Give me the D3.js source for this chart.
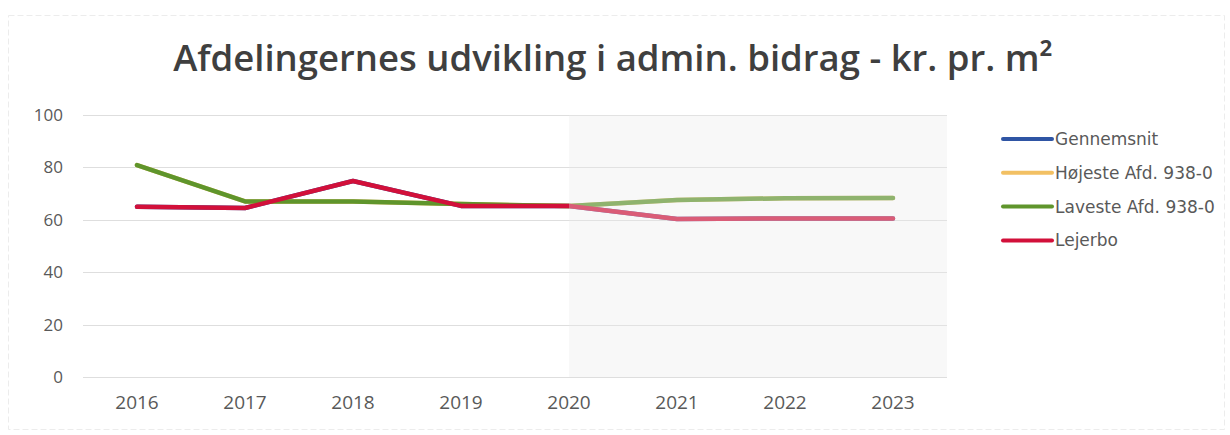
<!DOCTYPE html>
<html><head><meta charset="utf-8">
<script src="https://cdn.jsdelivr.net/npm/d3@7"></script>
<style>body{margin:0;background:#fff}svg{display:block}</style>
</head><body>
<script>
const years = ["2016","2017","2018","2019","2020","2021","2022","2023"];
const seriesNames = ["Gennemsnit","Højeste Afd. 938-0","Laveste Afd. 938-0","Lejerbo"];
const gennemsnit = [65, 64.5, 74.8, 65.3, 65.3, 60.3, 60.5, 60.5];
const hojeste = [80.9, 67, 67, 66, 65.3, 67.6, 68.2, 68.3];
const laveste = [80.9, 67, 67, 66, 65.3, 67.6, 68.2, 68.3];
const lejerbo = [65, 64.5, 74.8, 65.3, 65.3, 60.3, 60.5, 60.5];
const yTicks = [0, 20, 40, 60, 80, 100];
const colors = ["#2f55a4","#f2c063","#5f952c","#d2103a"];
const shadedFrom = "2020";

const W = 1230, H = 435;
const svg = d3.select("body").append("svg").attr("width", W).attr("height", H);
svg.append("rect").attr("x",8.5).attr("y",15.5).attr("width",1216).attr("height",414)
  .attr("fill","none").attr("stroke","#ececec").attr("stroke-dasharray","6,3");

const title = svg.append("text").attr("x", 613).attr("y", 71).attr("text-anchor","middle")
  .attr("font-family","'Open Sans', sans-serif").attr("font-weight", 600).attr("font-size", 36)
  .attr("fill","#3f3f3f").text("Afdelingernes udvikling i admin. bidrag - kr. pr. m²");
const tl = title.node().getComputedTextLength();
title.attr("font-size", 36 * 880 / tl);

const x = d3.scaleBand().domain(years).range([83, 947]);
const y = d3.scaleLinear().domain([0, 100]).range([377, 115]);

// gridlines
svg.append("g").selectAll("line").data(yTicks).join("line")
  .attr("x1", 83).attr("x2", 947)
  .attr("y1", d => Math.round(y(d)) + 0.5).attr("y2", d => Math.round(y(d)) + 0.5)
  .attr("stroke", "#dedede").attr("stroke-width", 1);

// y axis labels
const yAxis = d3.axisLeft(y).tickValues(yTicks).tickSize(0).tickPadding(0);
const gy = svg.append("g").attr("transform","translate(63,0)").call(yAxis);
gy.select(".domain").remove();
gy.selectAll("text").attr("font-family","'Open Sans', sans-serif").attr("font-size",17).attr("fill","#595959");

// x axis labels
const xAxis = d3.axisBottom(x).tickSize(0).tickPadding(0);
const gx = svg.append("g").attr("transform","translate(0,395)").call(xAxis);
gx.select(".domain").remove();
gx.selectAll("text").attr("font-family","'Open Sans', sans-serif").attr("font-size",19).attr("fill","#595959");

const cx = d => x(d) + x.bandwidth()/2;
const line = d3.line().x((d,i) => cx(years[i])).y(d => y(d));
const data = [gennemsnit, hojeste, laveste, lejerbo];
svg.append("g").selectAll("path").data(data).join("path")
  .attr("d", d => line(d)).attr("fill","none")
  .attr("stroke", (d,i) => colors[i]).attr("stroke-width", 4.5)
  .attr("stroke-linejoin","round").attr("stroke-linecap","round");

// faded overlay region
const sx = cx(shadedFrom);
svg.append("rect").attr("x", sx).attr("y", 115).attr("width", 947 - sx).attr("height", 262)
  .attr("fill","#ebebeb").attr("fill-opacity", 0.35);

// legend
const lg = svg.append("g");
seriesNames.forEach((n, i) => {
  const ly = 139 + i * 33.8;
  lg.append("line").attr("x1", 1003).attr("x2", 1052).attr("y1", ly).attr("y2", ly)
    .attr("stroke", colors[i]).attr("stroke-width", 4).attr("stroke-linecap","round");
  lg.append("text").attr("x", 1055).attr("y", ly).attr("dy","0.35em")
    .attr("font-family","'DejaVu Sans', sans-serif").attr("font-size",17).attr("fill","#595959").text(n);
});
</script>
</body></html>
